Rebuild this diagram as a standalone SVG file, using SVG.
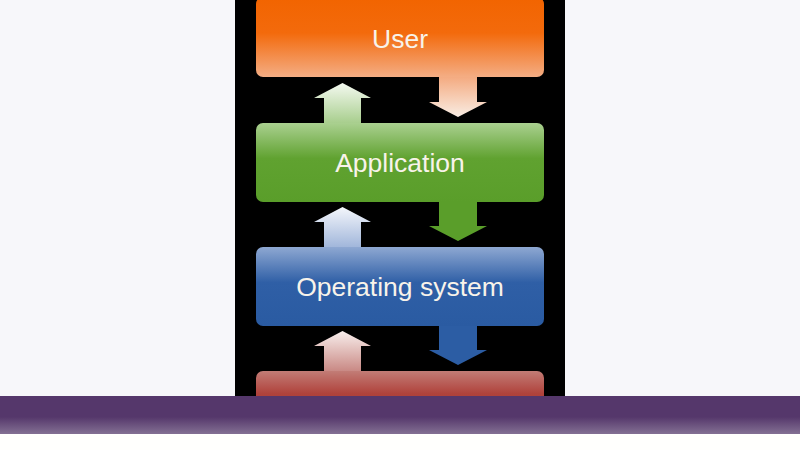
<svg xmlns="http://www.w3.org/2000/svg" width="800" height="450" viewBox="0 0 800 450">
<style>
.lbl{font-family:"Liberation Sans",Arial,sans-serif;font-size:26.5px;fill:#f8f3ea;text-anchor:middle}
</style>
<defs>
<linearGradient id="gUser" x1="0" y1="0" x2="0" y2="1"><stop offset="0" stop-color="#f26400"/><stop offset="0.45" stop-color="#f36a0c"/><stop offset="1" stop-color="#f4ad84"/></linearGradient>
<linearGradient id="gApp" x1="0" y1="0" x2="0" y2="1"><stop offset="0" stop-color="#aad090"/><stop offset="0.45" stop-color="#60a230"/><stop offset="1" stop-color="#5a9e2a"/></linearGradient>
<linearGradient id="gOS" x1="0" y1="0" x2="0" y2="1"><stop offset="0" stop-color="#8ea8d2"/><stop offset="0.45" stop-color="#2f5fa6"/><stop offset="1" stop-color="#2a5ba2"/></linearGradient>
<linearGradient id="gHW" x1="0" y1="0" x2="0" y2="1"><stop offset="0" stop-color="#c27c76"/><stop offset="0.45" stop-color="#b0433c"/><stop offset="1" stop-color="#a8352f"/></linearGradient>
<linearGradient id="aUserDown" x1="0" y1="0" x2="0" y2="1"><stop offset="0" stop-color="#f4a97e"/><stop offset="1" stop-color="#f9ede4"/></linearGradient>
<linearGradient id="aAppUp" x1="0" y1="0" x2="0" y2="1"><stop offset="0" stop-color="#f4f9f0"/><stop offset="1" stop-color="#a6cd8b"/></linearGradient>
<linearGradient id="aOSUp" x1="0" y1="0" x2="0" y2="1"><stop offset="0" stop-color="#f4f6fb"/><stop offset="1" stop-color="#9fb5da"/></linearGradient>
<linearGradient id="aHWUp" x1="0" y1="0" x2="0" y2="1"><stop offset="0" stop-color="#f8eeec"/><stop offset="1" stop-color="#c88782"/></linearGradient>
<linearGradient id="gBar" x1="0" y1="0" x2="0" y2="1"><stop offset="0" stop-color="#55376b"/><stop offset="0.55" stop-color="#55376b"/><stop offset="1" stop-color="#837093"/></linearGradient>
</defs>
<rect x="0" y="0" width="800" height="450" fill="#f7f7fa"/>
<rect x="235" y="0" width="330" height="396" fill="#000"/>
<g id="connectors">
<path d="M439,76 H477 V102 H487 L458,117 L429,102 H439 Z" fill="url(#aUserDown)"/>
<path d="M324,124 V98 H314 L342.5,83 L371,98 H361 V124 Z" fill="url(#aAppUp)"/>
<path d="M439,200 H477 V226 H487 L458,241 L429,226 H439 Z" fill="#5a9e2a"/>
<path d="M324,248 V222 H314 L342.5,207 L371,222 H361 V248 Z" fill="url(#aOSUp)"/>
<path d="M439,324 H477 V350 H487 L458,365 L429,350 H439 Z" fill="#2c5da4"/>
<path d="M324,372 V346 H314 L342.5,331 L371,346 H361 V372 Z" fill="url(#aHWUp)"/>
</g>
<g id="user"><rect x="256" y="-3" width="288" height="80" rx="7" fill="url(#gUser)"/><text class="lbl" x="400" y="48">User</text></g>
<g id="application"><rect x="256" y="123" width="288" height="79" rx="7" fill="url(#gApp)"/><text class="lbl" x="400" y="172">Application</text></g>
<g id="os"><rect x="256" y="247" width="288" height="79" rx="7" fill="url(#gOS)"/><text class="lbl" x="400" y="296">Operating system</text></g>
<g id="hardware"><rect x="256" y="371" width="288" height="50" rx="7" fill="url(#gHW)"/></g>
<rect x="0" y="396" width="800" height="38" fill="url(#gBar)"/>
<rect x="0" y="434" width="800" height="16" fill="#fffffd"/>
</svg>
